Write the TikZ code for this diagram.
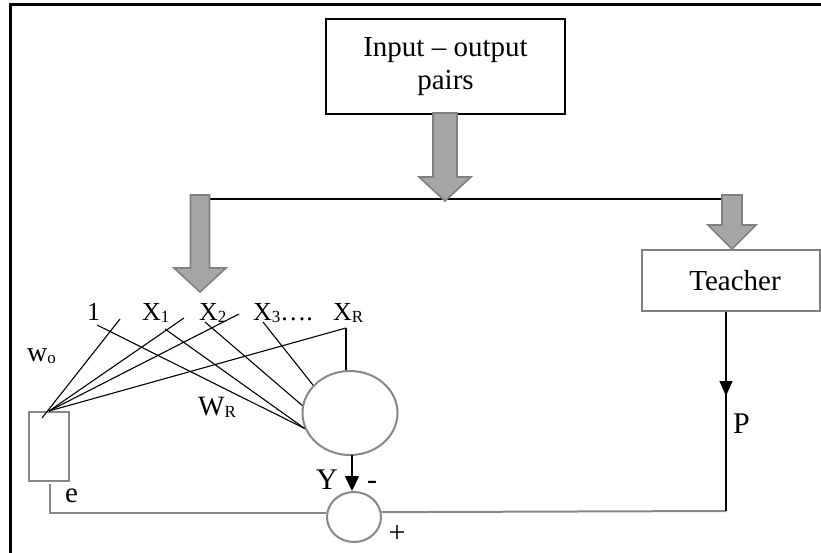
\documentclass[tikz,border=0pt]{standalone}
\usepackage{fontspec}
\setmainfont{Liberation Serif}
\usetikzlibrary{shapes.geometric,arrows.meta,calc}
\definecolor{afill}{RGB}{166,166,166}
\definecolor{aline}{RGB}{128,128,128}
\definecolor{gline}{RGB}{135,135,135}
\newcommand\sbs[1]{\raisebox{-2pt}{\fontsize{17}{17}\selectfont #1}}
\newcommand\blockarrow[6]{%
  \filldraw[blockarr] (#1-#5,#2) -- (#1+#5,#2) -- (#1+#5,#3) -- (#1+#6,#3) -- (#1,#4) -- (#1-#6,#3) -- (#1-#5,#3) -- cycle;}
\begin{document}
\begin{tikzpicture}[x=1pt,y=-1pt,
  blockarr/.style={fill=afill,draw=aline,line width=1.6pt,line join=miter},
  lbl/.style={inner sep=0pt,anchor=base west,font=\fontsize{26}{30}\selectfont},
  fan/.style={black,line width=1.1pt},
  gshape/.style={draw=gline,line width=2pt,inner sep=0pt},
  gwire/.style={gline,line width=2pt}]
\useasboundingbox (0,0) rectangle (821,553);
% frame
\draw[line width=3pt,line cap=rect] (10,560) -- (10,5) -- (830,5);
% boxes
\node[draw,line width=2pt,minimum width=239pt,minimum height=95pt,align=center,
      inner sep=0pt,font=\fontsize{29}{33}\selectfont] (io) at (445.5,66.5) {Input – output\\pairs};
\node[draw=aline,line width=1.6pt,minimum width=178pt,minimum height=61pt,inner sep=0pt,
      font=\fontsize{29}{33}\selectfont] (teacher) at (731,280.5) {\hspace*{8pt}Teacher};
% bus line
\coordinate (busL) at (205,199);
\coordinate (busR) at (722,199);
\draw[line width=1.2pt] (busL) -- (busR);
% block arrows
\blockarrow{445}{113}{177}{201}{12}{26}
\blockarrow{200}{195}{268}{292}{9.5}{26}
\blockarrow{732}{195}{225}{249}{10}{24}
% labels
\node[lbl] (l1) at (87,320) {1};
\node[lbl] (lx1) at (142,320) {X\sbs{1}};
\node[lbl] (lx2) at (199,320) {X\sbs{2}};
\node[lbl] (lx3) at (253,320) {X\sbs{3}….};
\node[lbl] (lxr) at (333,320) {X\sbs{R}};
\node[lbl,font=\fontsize{28}{30}\selectfont] (wo) at (27,361) {w\sbs{o}};
\node[lbl,font=\fontsize{28}{30}\selectfont] (wr) at (198,415) {W\sbs{R}};
\node[lbl,font=\fontsize{29}{30}\selectfont] (e) at (65,502) {e};
\node[lbl,font=\fontsize{30}{30}\selectfont] (y) at (316,489) {Y};
\node[lbl,font=\fontsize{30}{30}\selectfont] (minus) at (367,489) {-};
\node[inner sep=0pt,font=\fontsize{30}{30}\selectfont] (plus) at (397,534) {+};
\node[lbl,font=\fontsize{30}{30}\selectfont] (p) at (733,433) {P};
% shapes
\node[gshape,minimum width=40pt,minimum height=69pt] (rect) at (49,446.5) {};
\node[gshape,ellipse,minimum width=95pt,minimum height=84pt] (big) at (350,413) {};
\node[gshape,ellipse,minimum width=54pt,minimum height=50pt] (sm) at (354,517) {};
% fan to the rectangle
\coordinate (c0) at (49,411);
\coordinate (f1) at (120,319);
\coordinate (f2) at (184,318);
\coordinate (f3) at (239,314);
\coordinate (f4) at (346,328);
\draw[fan] (f1) -- (42,418);
\draw[fan] (f2) -- (c0);
\draw[fan] (f3) -- (c0);
\draw[fan] (f4) -- (c0);
% fan to the neuron
\coordinate (g1) at (97,325);
\coordinate (g2) at (165,329);
\coordinate (g3) at (205,322);
\coordinate (g4) at (263,322);
\draw[fan] (g1) -- (big.199);
\draw[fan] (g2) -- (big.199);
\draw[fan] (g3) -- (big.171);
\draw[fan] (g4) -- (big.143);
\draw[fan] (f4) -- (f4 |- big.north);
% output Y
\coordinate (yo) at (352,455);
\draw[line width=1.6pt,-{Triangle[length=15pt,width=14pt]}] (yo) -- (352,491);
% error loop
\coordinate (e0) at (50,484);
\draw[gwire] (e0) |- (sm.172);
\coordinate (tp) at (726,312);
\coordinate (tb) at (726,511);
\draw[gwire] (sm.10) -- (tb);
\draw[line width=1.1pt,-{Triangle[length=15pt,width=13pt]}] (tp) -- (726,396);
\draw[line width=1.1pt] (726,390) -- (tb);
\end{tikzpicture}
\end{document}
